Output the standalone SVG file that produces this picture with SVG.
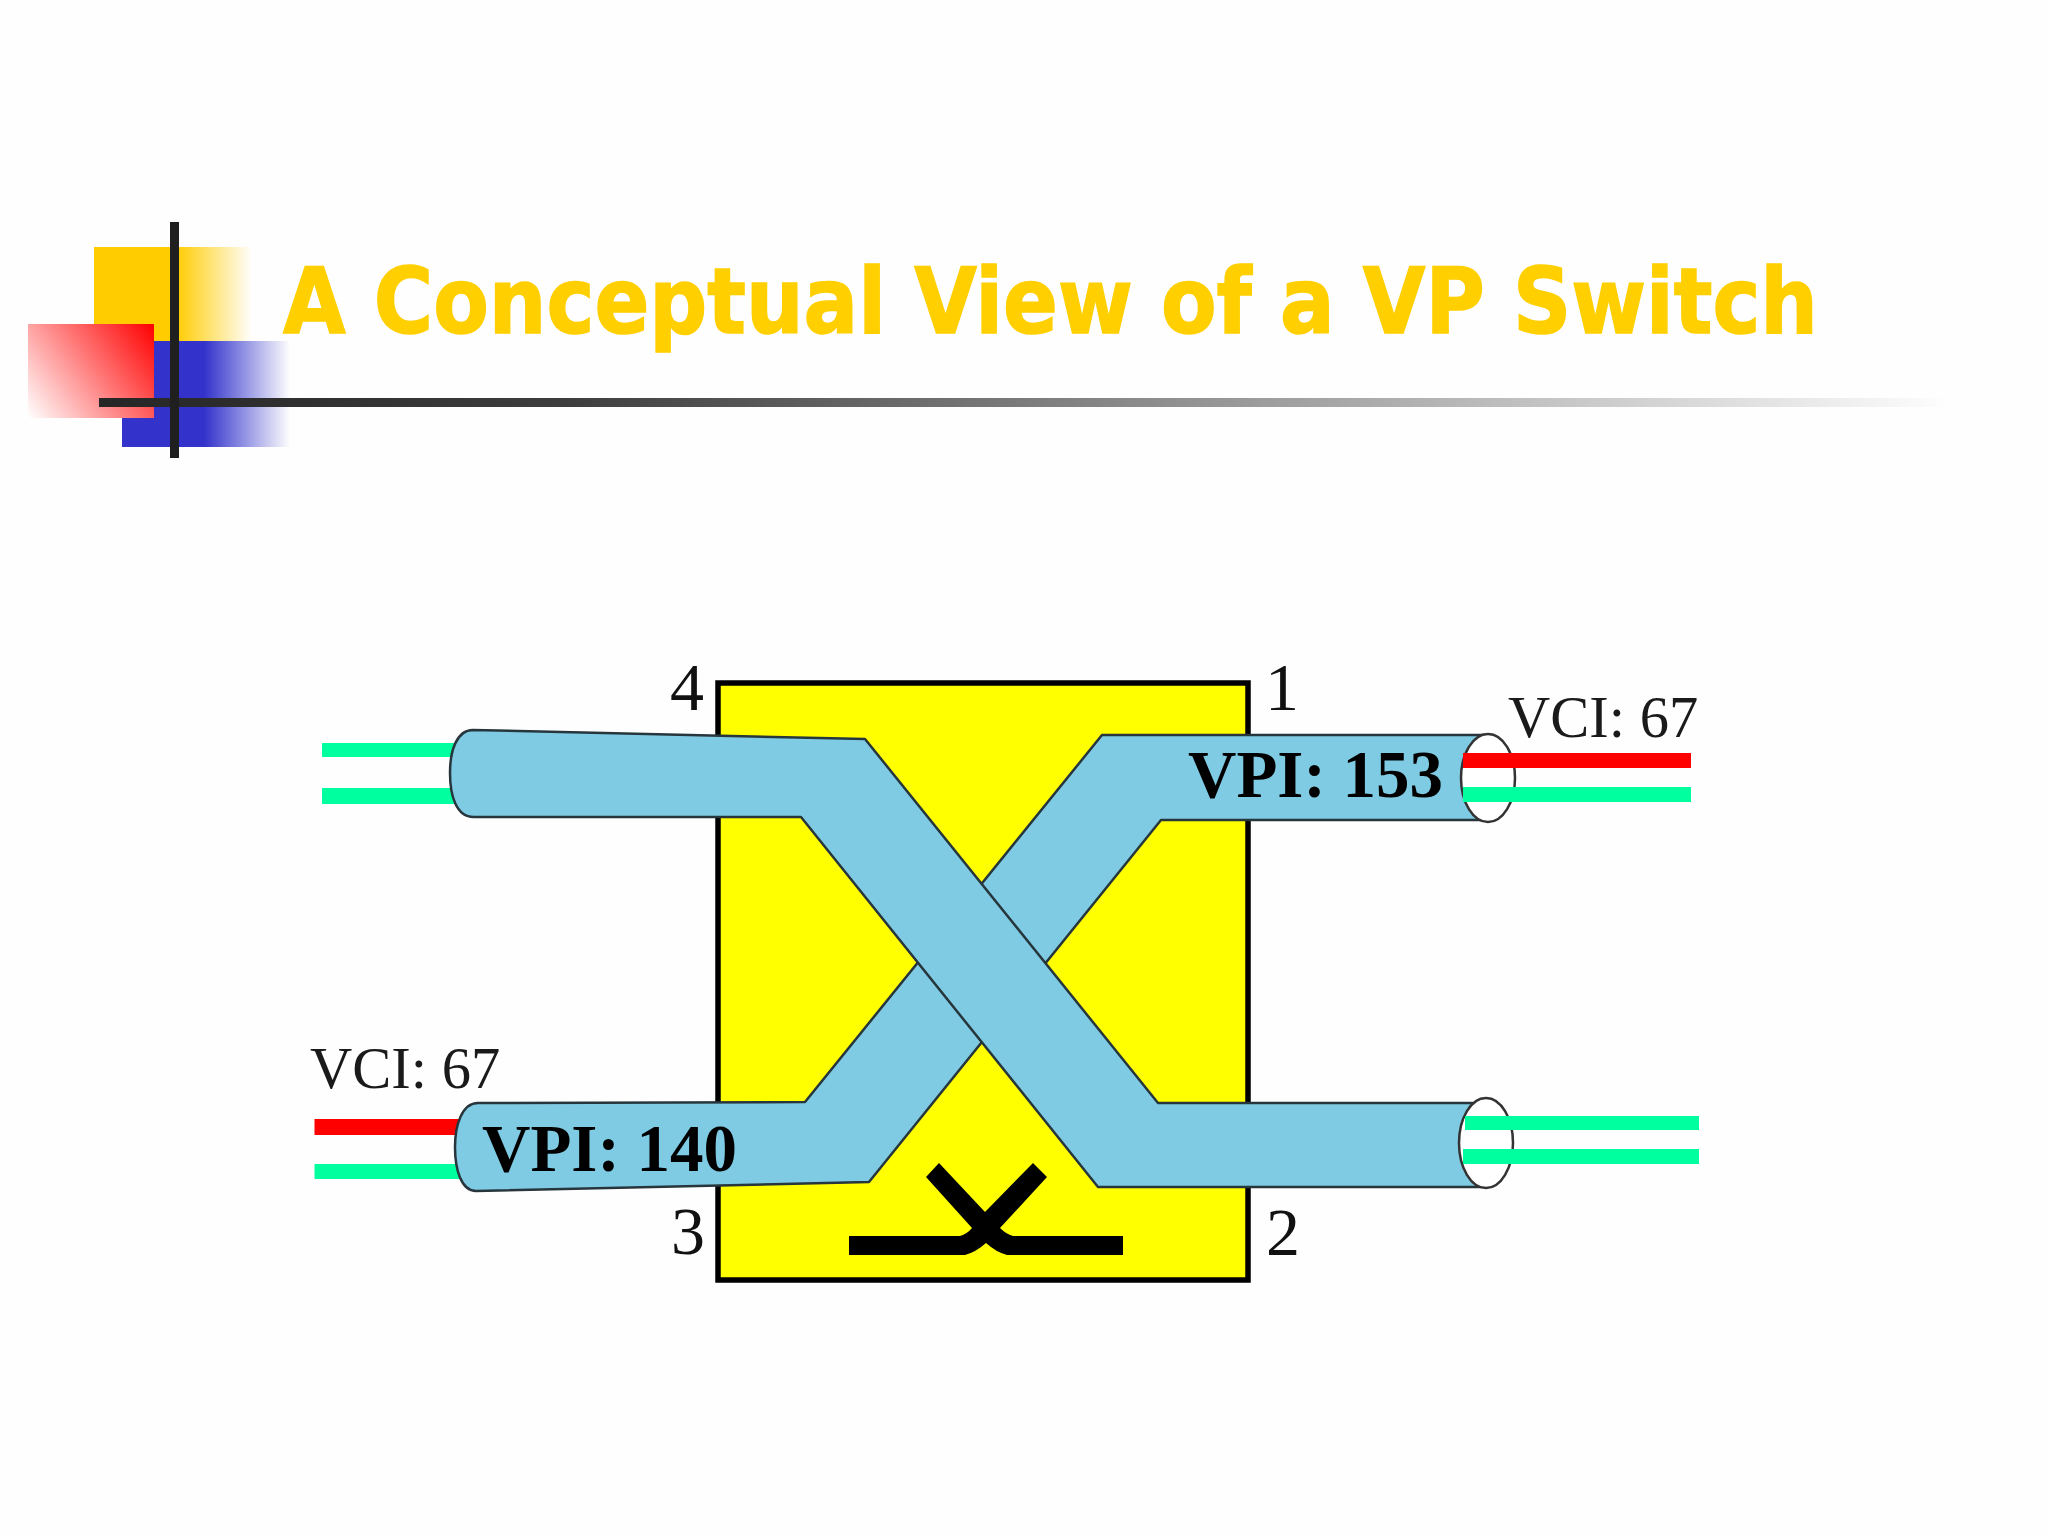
<svg xmlns="http://www.w3.org/2000/svg" width="2048" height="1536" viewBox="0 0 2048 1536">
<defs>
<linearGradient id="gy" gradientUnits="userSpaceOnUse" x1="94" y1="0" x2="252" y2="0"><stop offset="0.52" stop-color="#FFCC00"/><stop offset="1" stop-color="#FFCC00" stop-opacity="0"/></linearGradient>
<linearGradient id="gb" gradientUnits="userSpaceOnUse" x1="122" y1="0" x2="290" y2="0"><stop offset="0.49" stop-color="#3333CC"/><stop offset="1" stop-color="#3333CC" stop-opacity="0"/></linearGradient>
<linearGradient id="gr" gradientUnits="userSpaceOnUse" x1="154" y1="324" x2="28" y2="418"><stop offset="0" stop-color="#FF0000"/><stop offset="1" stop-color="#FFFFFF"/></linearGradient>
<linearGradient id="gl" gradientUnits="userSpaceOnUse" x1="99" y1="0" x2="1950" y2="0"><stop offset="0" stop-color="#262626"/><stop offset="0.25" stop-color="#3d3d3d"/><stop offset="1" stop-color="#333333" stop-opacity="0"/></linearGradient>
</defs>
<style>
.tube{fill:#7FCBE3;stroke:#26363c;stroke-width:2.5;stroke-linejoin:round}
.end{fill:#fff;stroke:#333;stroke-width:2.5}
.g{fill:#00FF9F}
.r{fill:#FF0000}
.n{font-family:"Liberation Serif",serif;fill:#111;font-size:68px}
.v{font-family:"Liberation Serif",serif;fill:#1a1a1a;font-size:58.5px}
.p{font-family:"Liberation Serif",serif;fill:#000;font-size:67px;font-weight:bold}
</style>
<rect width="2048" height="1536" fill="#FEFEFE"/>
<g id="decoration">
<rect x="94" y="247" width="158" height="94" fill="url(#gy)"/>
<rect x="122" y="341" width="168" height="106" fill="url(#gb)"/>
<rect x="28" y="324" width="126" height="94" fill="url(#gr)"/>
<rect x="99" y="398" width="1851" height="9" fill="url(#gl)"/>
<rect x="170" y="222" width="9" height="236" fill="#1f1f1f"/>
</g>
<text id="title" x="283" y="332.5" font-family="'DejaVu Sans',sans-serif" font-weight="bold" font-size="90" fill="#FFCF00" stroke="#FFCF00" stroke-width="1.5" textLength="1535" lengthAdjust="spacingAndGlyphs">A Conceptual View of a VP Switch</text>
<g id="switch">
<rect x="718" y="683" width="530" height="597" fill="#FFFF00" stroke="#000" stroke-width="5.5"/>
<path fill="#000" d="M849,1236 H960 Q967,1234 972,1228 L926,1177 L939,1163 L985,1212 L1033,1163 L1047,1177 L1000,1228 Q1006,1234 1013,1236 H1123 V1255 H1007 Q996,1252 986,1243 Q976,1252 965,1255 H849 Z"/>
</g>
<g id="connectors">
<g id="wires-left">
<rect class="g" x="322" y="743" width="134" height="14"/>
<rect class="g" x="322" y="788" width="134" height="16"/>
<rect class="r" x="314.5" y="1119" width="145" height="16"/>
<rect class="g" x="314.5" y="1164" width="145" height="15"/>
</g>
<path id="tube-3-1" class="tube" d="M478,1103 L805,1102 L1102,735 L1488,735 V820 L1161,820 L869,1182 L476,1191 C461,1191 455,1169 455,1147 C455,1125 462,1103 478,1103 Z"/>
<path id="tube-4-2" class="tube" d="M473,730 L865,739 L1158,1103 L1486,1103 V1187 L1098,1187 L801,817 L473.6,817 C456,817 450,795 450,773 C450,752 456,730 473,730 Z"/>
<g id="end-1">
<ellipse class="end" cx="1488" cy="778" rx="27" ry="44"/>
<rect class="r" x="1463" y="753" width="228" height="15"/>
<rect class="g" x="1463" y="787" width="228" height="15"/>
</g>
<g id="end-2">
<ellipse class="end" cx="1486" cy="1143" rx="27" ry="45"/>
<rect class="g" x="1465" y="1116" width="234" height="14"/>
<rect class="g" x="1463" y="1149" width="236" height="15"/>
</g>
</g>
<g id="labels">
<text class="p" x="1188" y="797">VPI: 153</text>
<text class="p" x="482" y="1171">VPI: 140</text>
<text class="v" x="1508" y="737">VCI: 67</text>
<text class="v" x="310" y="1088">VCI: 67</text>
<text class="n" x="670" y="710">4</text>
<text class="n" x="1265" y="710">1</text>
<text class="n" x="671" y="1254">3</text>
<text class="n" x="1266" y="1255">2</text>
</g>
</svg>
